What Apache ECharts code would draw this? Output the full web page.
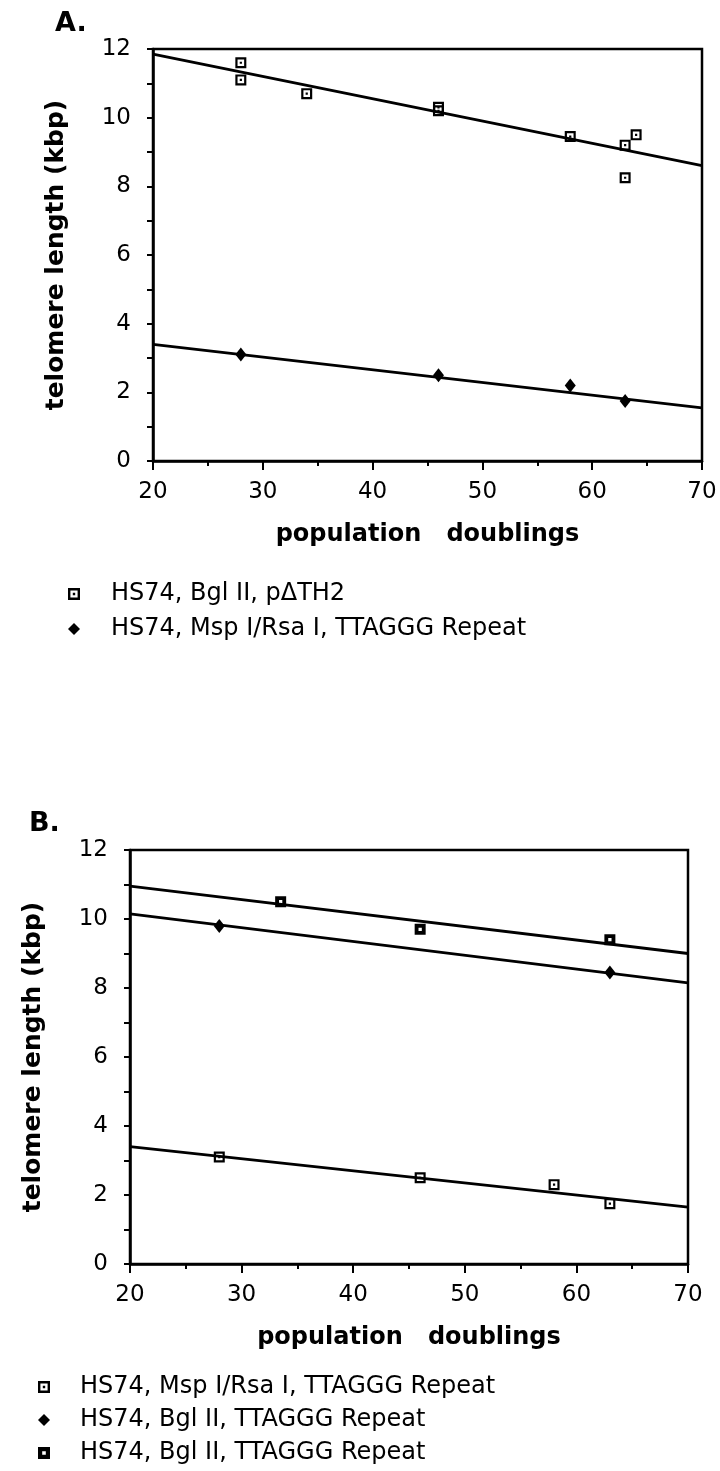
<!DOCTYPE html>
<html>
<head>
<meta charset="utf-8">
<script src="https://cdn.jsdelivr.net/npm/echarts@6/dist/echarts.min.js"></script>
<style>
  html, body { margin: 0; padding: 0; background: #fff; }
  #chart { width: 720px; height: 1471px; }
</style>
</head>
<body>
<div id="chart"></div>
<script>
// panel A : HS74 telomere length vs population doublings
var xA_sq = [28, 28, 34, 46, 46, 58, 63, 63, 64];
var yA_sq = [11.6, 11.1, 10.7, 10.3, 10.2, 9.45, 9.2, 8.25, 9.5];
var xA_dia = [28, 46, 58, 63];
var yA_dia = [3.1, 2.5, 2.2, 1.75];
var fitX = [20, 70];
var fitA_sq = [11.85, 8.6];
var fitA_dia = [3.4, 1.55];

// panel B
var xB_sqLow = [28, 46, 58, 63];
var yB_sqLow = [3.1, 2.5, 2.3, 1.75];
var xB_dia = [28, 63];
var yB_dia = [9.8, 8.45];
var xB_sqUp = [33.5, 46, 63];
var yB_sqUp = [10.5, 9.7, 9.4];
var fitB_sqLow = [3.4, 1.65];
var fitB_dia = [10.15, 8.15];
var fitB_sqUp = [10.95, 9.0];

var xTicks = [20, 30, 40, 50, 60, 70];
var yTicks = [0, 2, 4, 6, 8, 10, 12];

var legendText = {
    A1: 'HS74, Bgl II, p\u0394TH2',
    A2: 'HS74, Msp I/Rsa I, TTAGGG Repeat',
    B1: 'HS74, Msp I/Rsa I, TTAGGG Repeat',
    B2: 'HS74, Bgl II, TTAGGG Repeat',
    B3: 'HS74, Bgl II, TTAGGG Repeat'
};

var FONT = '"DejaVu Sans", sans-serif';
var dotSquare = 'path://M0,0H10V10H0Z M2,2V8H8V2Z M4,4H6V6H4Z';
var solidSquare = 'path://M0,0H10V10H0Z M3.5,3.5V6.5H6.5V3.5Z';

function pairs(xs, ys) {
    return xs.map(function (x, i) { return [x, ys[i]]; });
}

function xAxisCfg(idx) {
    return {
        type: 'value', gridIndex: idx,
        min: xTicks[0], max: xTicks[xTicks.length - 1], interval: 10,
        name: 'population   doublings', nameLocation: 'middle', nameGap: 62,
        nameTextStyle: { fontFamily: FONT, fontSize: 24, fontWeight: 'bold', color: '#000' },
        axisLine: { lineStyle: { color: '#000', width: 2.5 } },
        axisTick: { length: 9, lineStyle: { color: '#000', width: 2 } },
        minorTick: { show: true, splitNumber: 2, length: 5, lineStyle: { color: '#000', width: 2 } },
        axisLabel: { fontFamily: FONT, fontSize: 23, color: '#000', margin: 20 },
        splitLine: { show: false }
    };
}

function yAxisCfg(idx) {
    return {
        type: 'value', gridIndex: idx,
        min: yTicks[0], max: yTicks[yTicks.length - 1], interval: 2,
        name: 'telomere length (kbp)', nameLocation: 'middle', nameGap: 84,
        nameTextStyle: { fontFamily: FONT, fontSize: 25, fontWeight: 'bold', color: '#000' },
        axisLine: { lineStyle: { color: '#000', width: 2.5 } },
        axisTick: { length: 6, lineStyle: { color: '#000', width: 2 } },
        minorTick: { show: true, splitNumber: 2, length: 6, lineStyle: { color: '#000', width: 2 } },
        axisLabel: { fontFamily: FONT, fontSize: 23, color: '#000', margin: 22 },
        splitLine: { show: false }
    };
}

function scatter(name, idx, xs, ys, symbol, size) {
    return {
        name: name, type: 'scatter', xAxisIndex: idx, yAxisIndex: idx,
        data: pairs(xs, ys), symbol: symbol, symbolSize: size,
        itemStyle: { color: '#000', opacity: 1 }, z: 5
    };
}

function fitLine(idx, ys) {
    return {
        type: 'line', xAxisIndex: idx, yAxisIndex: idx,
        data: pairs(fitX, ys), showSymbol: false, silent: true,
        lineStyle: { color: '#000', width: 2.8 }, z: 3
    };
}

var myChart = echarts.init(document.getElementById('chart'));
var option = {
    backgroundColor: '#fff',
    animation: false,
    title: [
        { text: 'A.', left: 50, top: 5, textStyle: { fontFamily: FONT, fontSize: 27, fontWeight: 'bold', color: '#000' } },
        { text: 'B.', left: 24, top: 805, textStyle: { fontFamily: FONT, fontSize: 27, fontWeight: 'bold', color: '#000' } }
    ],
    grid: [
        { left: 153, right: 18, top: 49, height: 412, show: true, borderColor: '#000', borderWidth: 2.5 },
        { left: 130, right: 32, top: 850, height: 414, show: true, borderColor: '#000', borderWidth: 2.5 }
    ],
    xAxis: [xAxisCfg(0), xAxisCfg(1)],
    yAxis: [yAxisCfg(0), yAxisCfg(1)],
    legend: [
        {
            data: [{ name: 'A1', icon: dotSquare }, { name: 'A2', icon: 'diamond' }],
            orient: 'vertical', left: 63, top: 577, itemWidth: 12, itemHeight: 12, itemGap: 11,
            selectedMode: false, formatter: function (n) { return legendText[n]; },
            textStyle: { fontFamily: FONT, fontSize: 24, color: '#000', padding: [0, 0, 0, 26] }
        },
        {
            data: [{ name: 'B1', icon: dotSquare }, { name: 'B2', icon: 'diamond' }, { name: 'B3', icon: solidSquare }],
            orient: 'vertical', left: 33, top: 1370, itemWidth: 12, itemHeight: 12, itemGap: 9,
            selectedMode: false, formatter: function (n) { return legendText[n]; },
            textStyle: { fontFamily: FONT, fontSize: 24, color: '#000', padding: [0, 0, 0, 25] }
        }
    ],
    series: [
        fitLine(0, fitA_sq),
        fitLine(0, fitA_dia),
        scatter('A1', 0, xA_sq, yA_sq, dotSquare, 11),
        scatter('A2', 0, xA_dia, yA_dia, 'diamond', [11, 14]),
        fitLine(1, fitB_sqLow),
        fitLine(1, fitB_dia),
        fitLine(1, fitB_sqUp),
        scatter('B1', 1, xB_sqLow, yB_sqLow, dotSquare, 11),
        scatter('B2', 1, xB_dia, yB_dia, 'diamond', [11, 14]),
        scatter('B3', 1, xB_sqUp, yB_sqUp, solidSquare, 11)
    ]
};
myChart.setOption(option);
</script>
</body>
</html>
